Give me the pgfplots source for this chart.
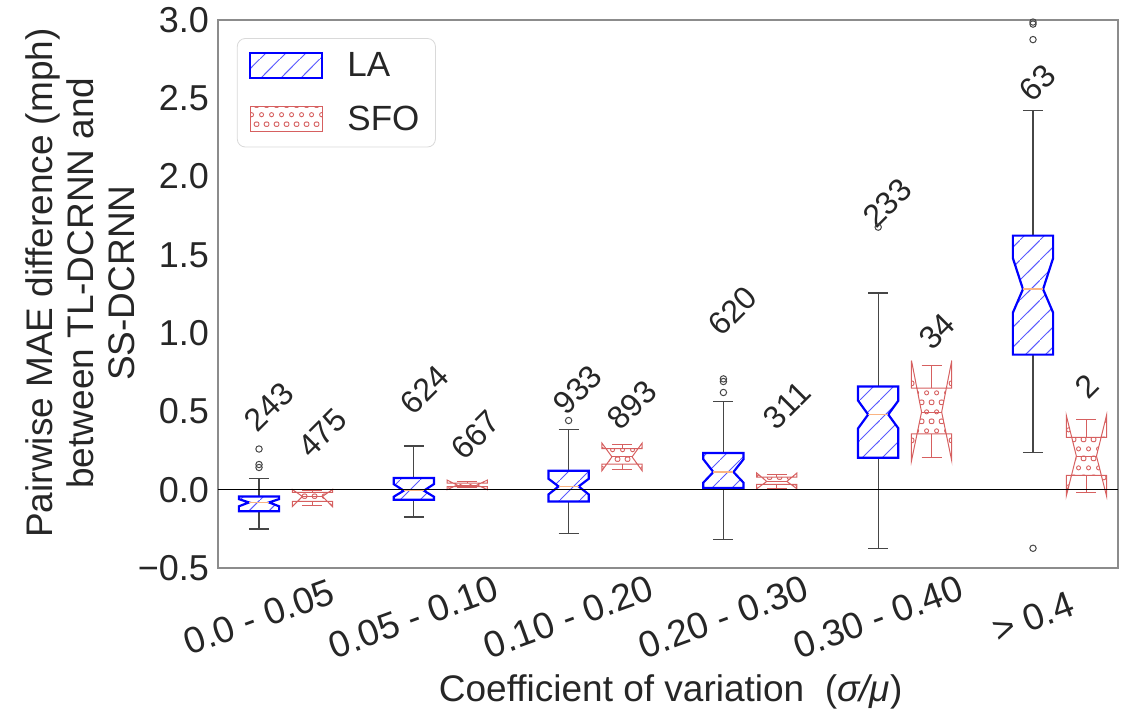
\documentclass[border=0pt]{standalone}
\usepackage{fontspec}
\setmainfont{Liberation Sans}
\usepackage{pgfplots}
\pgfplotsset{compat=1.18}
\usepgfplotslibrary{statistics}
\usetikzlibrary{patterns.meta}
\definecolor{txt}{RGB}{38,38,38}
\definecolor{lablue}{RGB}{0,0,255}
\definecolor{hatchblue}{RGB}{90,90,255}
\definecolor{sfored}{RGB}{214,96,96}
\definecolor{medorange}{RGB}{250,180,130}
\definecolor{whisk}{RGB}{70,70,70}
\definecolor{framec}{RGB}{140,140,140}

\tikzdeclarepattern{
  name=hatch,
  tile size={(10pt,10pt)},
  bounding box={(0pt,0pt) and (10pt,10pt)},
  code={\draw[line width=0.5pt] (-1pt,-1pt) -- (11pt,11pt);}
}
\tikzdeclarepattern{
  name=rings,
  tile size={(4.75pt,9.3pt)},
  bounding box={(0pt,0pt) and (4.75pt,9.3pt)},
  code={\draw[line width=0.45pt] (0pt,0pt) circle (1.05pt) (2.375pt,4.65pt) circle (1.05pt)
        (4.75pt,0pt) circle (1.05pt) (0pt,9.3pt) circle (1.05pt) (4.75pt,9.3pt) circle (1.05pt);}
}

\pgfplotsset{
  boxplot/notch low/.initial=0,
  boxplot/notch high/.initial=0,
  notched/.style={
    boxplot/draw direction=y,
    boxplot/draw/box/.code={%
      \draw[/pgfplots/boxplot/every box/.try]
        (boxplot box cs:\pgfplotsboxplotvalue{lower quartile},0) --
        (boxplot box cs:\pgfkeysvalueof{/pgfplots/boxplot/notch low},0) --
        (boxplot box cs:\pgfplotsboxplotvalue{median},0.25) --
        (boxplot box cs:\pgfkeysvalueof{/pgfplots/boxplot/notch high},0) --
        (boxplot box cs:\pgfplotsboxplotvalue{upper quartile},0) --
        (boxplot box cs:\pgfplotsboxplotvalue{upper quartile},1) --
        (boxplot box cs:\pgfkeysvalueof{/pgfplots/boxplot/notch high},1) --
        (boxplot box cs:\pgfplotsboxplotvalue{median},0.75) --
        (boxplot box cs:\pgfkeysvalueof{/pgfplots/boxplot/notch low},1) --
        (boxplot box cs:\pgfplotsboxplotvalue{lower quartile},1) -- cycle;
    },
    boxplot/draw/median/.code={%
      \draw[/pgfplots/boxplot/every median/.try]
        (boxplot box cs:\pgfplotsboxplotvalue{median},0.25) --
        (boxplot box cs:\pgfplotsboxplotvalue{median},0.75);
    },
  },
  LAbox/.style={forget plot, notched,
    boxplot/box extend=0.26, boxplot/whisker extend=0.13,
    boxplot/every box/.style={draw=lablue, line width=1.1pt, pattern={hatch}, pattern color=hatchblue},
    boxplot/every median/.style={draw=medorange, line width=0.8pt},
    boxplot/every whisker/.style={draw=whisk, line width=0.6pt},
    mark=o, mark size=1.6pt, mark options={draw=whisk, line width=0.5pt}},
  SFObox/.style={forget plot, notched,
    boxplot/box extend=0.26, boxplot/whisker extend=0.13,
    boxplot/every box/.style={draw=sfored, line width=0.5pt, pattern={rings}, pattern color=sfored},
    boxplot/every median/.style={draw=sfored, line width=0.5pt},
    boxplot/every whisker/.style={draw=sfored, line width=0.5pt},
    mark=o, mark size=1.6pt, mark options={draw=sfored}},
}

\begin{document}
\begin{tikzpicture}
\begin{axis}[
  name=ax,
  width=450pt, height=274pt, scale only axis,
  xmin=-0.265, xmax=5.549, ymin=-0.5, ymax=3.0,
  xtick={0,1,2,3,4,5},
  xticklabels={0.0 - 0.05, 0.05 - 0.10, 0.10 - 0.20, 0.20 - 0.30, 0.30 - 0.40, > 0.4},
  ytick={-0.5,0,0.5,1,1.5,2,2.5,3},
  yticklabels={−0.5,0.0,0.5,1.0,1.5,2.0,2.5,3.0},
  major tick length=0pt,
  axis line style={draw=framec, line width=0.6pt},
  tick label style={font=\fontsize{18}{20}\selectfont, text=txt},
  xticklabel style={font=\fontsize{18.5}{20}\selectfont, rotate=20, anchor=center, xshift=-8.4pt, yshift=-23pt},
  yticklabel style={xshift=-1pt},
  xlabel={Coefficient of variation\ \ (\textit{σ/μ})},
  ylabel={Pairwise MAE difference (mph)\\between TL-DCRNN and\\SS-DCRNN},
  label style={font=\fontsize{18.5}{20.5}\selectfont, text=txt},
  xlabel style={at={(axis description cs:0.503,-0.226)}, anchor=center},
  ylabel style={at={(axis description cs:-0.153,0.52)}, anchor=center, align=center},
  legend style={at={(0.021,0.967)}, anchor=north west, draw=gray!30, rounded corners=4pt,
    fill=white, font=\fontsize{17.5}{20}\selectfont, text=txt, inner xsep=6pt, inner ysep=5pt,
    row sep=9pt},
  legend cell align=left,
  legend image code/.code={\draw[sharp corners,#1] (0pt,-6pt) rectangle (36pt,6.5pt); \path (46pt,0pt);},
]
% ---------- LA ----------
\addplot[LAbox, boxplot prepared={draw position=0, lower whisker=-0.251, lower quartile=-0.138, median=-0.081, upper quartile=-0.043, upper whisker=0.072}, boxplot/notch low=-0.106, boxplot/notch high=-0.060]
  coordinates {(0,0.26) (0,0.161) (0,0.142)};
\addplot[LAbox, boxplot prepared={draw position=1, lower whisker=-0.174, lower quartile=-0.064, median=-0.006, upper quartile=0.075, upper whisker=0.279}, boxplot/notch low=-0.045, boxplot/notch high=0.036]
  coordinates {};
\addplot[LAbox, boxplot prepared={draw position=2, lower whisker=-0.281, lower quartile=-0.075, median=0.021, upper quartile=0.121, upper whisker=0.387}, boxplot/notch low=-0.030, boxplot/notch high=0.070]
  coordinates {(2,0.442)};
\addplot[LAbox, boxplot prepared={draw position=3, lower whisker=-0.319, lower quartile=0.011, median=0.113, upper quartile=0.234, upper whisker=0.563}, boxplot/notch low=0.045, boxplot/notch high=0.195]
  coordinates {(3,0.621) (3,0.691) (3,0.708)};
\addplot[LAbox, boxplot prepared={draw position=4, lower whisker=-0.374, lower quartile=0.204, median=0.480, upper quartile=0.659, upper whisker=1.257}, boxplot/notch low=0.392, boxplot/notch high=0.569]
  coordinates {(4,1.677)};
\addplot[LAbox, boxplot prepared={draw position=5, lower whisker=0.239, lower quartile=0.863, median=1.281, upper quartile=1.623, upper whisker=2.420}, boxplot/notch low=1.131, boxplot/notch high=1.479]
  coordinates {(5,2.974) (5,2.987) (5,2.875) (5,-0.374)};
% ---------- SFO ----------
\addplot[SFObox, boxplot prepared={draw position=0.345, lower whisker=-0.102, lower quartile=-0.075, median=-0.043, upper quartile=-0.017, upper whisker=-0.004}, boxplot/notch low=-0.108, boxplot/notch high=0.002]
  coordinates {};
\addplot[SFObox, boxplot prepared={draw position=1.345, lower whisker=0.012, lower quartile=0.020, median=0.030, upper quartile=0.042, upper whisker=0.052}, boxplot/notch low=0.000, boxplot/notch high=0.062]
  coordinates {};
\addplot[SFObox, boxplot prepared={draw position=2.345, lower whisker=0.132, lower quartile=0.164, median=0.210, upper quartile=0.262, upper whisker=0.290}, boxplot/notch low=0.121, boxplot/notch high=0.298]
  coordinates {};
\addplot[SFObox, boxplot prepared={draw position=3.345, lower whisker=0.011, lower quartile=0.034, median=0.053, upper quartile=0.081, upper whisker=0.100}, boxplot/notch low=0.006, boxplot/notch high=0.107]
  coordinates {};
\addplot[SFObox, boxplot prepared={draw position=4.345, lower whisker=0.206, lower quartile=0.357, median=0.496, upper quartile=0.649, upper whisker=0.793}, boxplot/notch low=0.185, boxplot/notch high=0.825]
  coordinates {};
\addplot[SFObox, boxplot prepared={draw position=5.345, lower whisker=-0.020, lower quartile=0.092, median=0.215, upper quartile=0.335, upper whisker=0.447}, boxplot/notch low=-0.040, boxplot/notch high=0.475]
  coordinates {};
% zero line
\draw[black, line width=0.75pt] (axis cs:-0.265,0) -- (axis cs:5.549,0);
% legend
\addlegendimage{draw=lablue, line width=1.1pt, pattern={hatch}, pattern color=hatchblue}
\addlegendentry{LA}
\addlegendimage{draw=sfored, line width=0.5pt, pattern={rings}, pattern color=sfored}
\addlegendentry{SFO}
% counts
\begin{scope}[every node/.style={rotate=45, font=\fontsize{16}{18}\selectfont, text=txt}]
\node at (axis cs:0.065,0.53) {243};
\node at (axis cs:0.41,0.36) {475};
\node at (axis cs:1.07,0.64) {624};
\node at (axis cs:1.40,0.35) {667};
\node at (axis cs:2.06,0.64) {933};
\node at (axis cs:2.41,0.54) {893};
\node at (axis cs:3.06,1.14) {620};
\node at (axis cs:3.41,0.54) {311};
\node at (axis cs:4.06,1.83) {233};
\node at (axis cs:4.38,1.01) {34};
\node at (axis cs:5.03,2.60) {63};
\node at (axis cs:5.35,0.66) {2};
\end{scope}
\end{axis}
\pgfresetboundingbox
\path ([shift={(-109pt,-75.5pt)}]ax.south west) rectangle ([shift={(3pt,10pt)}]ax.north east);
\end{tikzpicture}
\end{document}
